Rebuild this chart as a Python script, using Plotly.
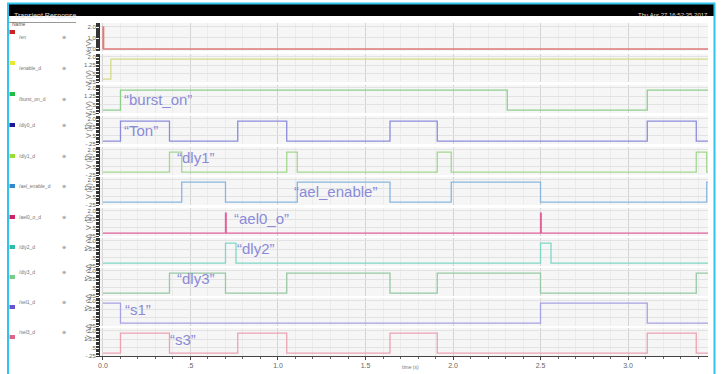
import plotly.graph_objects as go
from plotly.subplots import make_subplots

# ---------------- data ----------------
signal_names = ["/en", "/enable_d", "/burst_on_d", "/dly0_d", "/dly1_d", "/ael_enable_d",
                "/ael0_o_d", "/dly2_d", "/dly3_d", "/sel1_d", "/sel3_d"]
line_colors = ["#e07a7a", "#d4da86", "#8ccf8c", "#8c8cdc", "#a2d88e", "#88b6e0",
               "#e0609a", "#80d6c4", "#98c8a4", "#a6a2e4", "#eca2b2"]
key_colors = ["#cc2222", "#e8e830", "#22bb44", "#1a1a99", "#99dd33", "#3388cc",
              "#cc2266", "#33bbaa", "#77cc88", "#6655cc", "#dd6688"]

tran_t = [0.0, 0.0, 0.004, 3.457]
tran_v = [0.0, 2.0, 0.0, 0.0]
enable_t = [0.0, 0.045, 3.457]
enable_v = [0.0, 1.8, 1.8]
burst_t = [0.0, 0.10, 2.31, 3.11, 3.457]
burst_v = [0.0, 1.8, 0.0, 1.8, 1.8]
ton_t = [0.0, 0.10, 0.38, 0.77, 1.05, 1.64, 1.91, 3.11, 3.39, 3.457]
ton_v = [0.0, 1.8, 0.0, 1.8, 0.0, 1.8, 0.0, 1.8, 0.0, 0.0]
dly1_t = [0.0, 0.38, 0.45, 1.05, 1.11, 1.91, 1.99, 3.39, 3.45, 3.457]
dly1_v = [0.0, 1.8, 0.0, 1.8, 0.0, 1.8, 0.0, 1.8, 0.0, 0.0]
aelen_t = [0.0, 0.45, 0.70, 1.11, 1.64, 1.99, 2.50, 3.45, 3.457]
aelen_v = [0.0, 1.8, 0.0, 1.8, 0.0, 1.8, 0.0, 1.8, 1.8]
ael0_t = [0.0, 0.70, 0.704, 2.50, 2.504, 3.457]
ael0_v = [0.0, 1.8, 0.0, 1.8, 0.0, 0.0]
dly2_t = [0.0, 0.70, 0.76, 2.50, 2.56, 3.457]
dly2_v = [0.0, 1.8, 0.0, 1.8, 0.0, 0.0]
dly3_t = [0.0, 0.38, 0.70, 1.05, 1.64, 1.91, 2.50, 3.39, 3.457]
dly3_v = [0.0, 1.8, 0.0, 1.8, 0.0, 1.8, 0.0, 1.8, 1.8]
s1_t = [0.0, 0.10, 2.50, 3.11, 3.457]
s1_v = [1.8, 0.0, 1.8, 0.0, 0.0]
s3_t = [0.0, 0.10, 0.38, 0.77, 1.05, 1.64, 1.91, 3.11, 3.39, 3.457]
s3_v = [0.0, 1.8, 0.0, 1.8, 0.0, 1.8, 0.0, 1.8, 0.0, 0.0]

series_t = [tran_t, enable_t, burst_t, ton_t, dly1_t, aelen_t, ael0_t, dly2_t, dly3_t, s1_t, s3_t]
series_v = [tran_v, enable_v, burst_v, ton_v, dly1_v, aelen_v, ael0_v, dly2_v, dly3_v, s1_v, s3_v]

labels = ["\u201cburst_on\u201d", "\u201cTon\u201d", "\u201cdly1\u201d", "\u201cael_enable\u201d",
          "\u201cael0_o\u201d", "\u201cdly2\u201d", "\u201cdly3\u201d", "\u201cs1\u201d", "\u201cs3\u201d"]
label_rows = [3, 4, 5, 6, 7, 8, 9, 10, 11]
label_x = [0.11, 0.11, 0.41, 1.08, 0.735, 0.755, 0.41, 0.115, 0.37]
label_y = [1.0, 1.0, 1.3, 0.95, 1.3, 1.3, 1.3, 1.2, 1.2]

x_tickvals = [0.0, 0.5, 1.0, 1.5, 2.0, 2.5, 3.0]
x_ticktext = ["0.0", ".5", "1.0", "1.5", "2.0", "2.5", "3.0"]
y_tickvals = [-0.25, 0.5, 1.25, 2.0]
y_ticktext = ["-.25", ".5", "1.25", "2.0"]
y1_tickvals = [0.0, 1.0, 2.0]
y1_ticktext = ["0.0", "1.0", "2.0"]

# ---------------- layout geometry (pixels) ----------------
W, H = 721, 374
row_tops = [23, 54, 85, 116, 147, 177, 208, 238, 268, 298, 328]
row_h = 28
x_left_px, x_right_px = 100, 708

def px(x):
    return x / W

def py(y):
    return 1 - y / H

n = len(series_t)
fig = make_subplots(rows=n, cols=1, shared_xaxes=True, vertical_spacing=0.01)

for i in range(n):
    fig.add_trace(go.Scatter(x=series_t[i], y=series_v[i], mode="lines",
                             line=dict(shape="hv", width=1.3, color=line_colors[i]),
                             showlegend=False, hoverinfo="skip"), row=i + 1, col=1)

font_small = dict(family="Liberation Sans, Arial", size=6, color="#666666")

for i in range(n):
    k = "" if i == 0 else str(i + 1)
    top = row_tops[i]
    bot = top + row_h
    ya = dict(domain=[py(bot), py(top)], showline=True, linecolor="#333333", linewidth=1,
              ticks="outside", ticklen=2, tickcolor="#333333", tickfont=font_small,
              showgrid=True, gridcolor="#e2e2e2", gridwidth=1, zeroline=False,
              fixedrange=True, automargin=False)
    if i == 0:
        ya.update(range=[-0.18, 2.36], tickvals=y1_tickvals, ticktext=y1_ticktext,
                  minor=dict(ticks="outside", ticklen=3, tickcolor="#333333",
                             dtick=0.1, tick0=0, showgrid=False))
    else:
        ya.update(range=[-0.25, 2.25], tickvals=y_tickvals, ticktext=y_ticktext,
                  minor=dict(ticks="outside", ticklen=3, tickcolor="#333333",
                             dtick=0.125, tick0=0, showgrid=False))
    fig.layout["yaxis" + k].update(ya)
    xa = dict(domain=[px(x_left_px), px(x_right_px)], range=[-0.017, 3.457],
              showgrid=True, gridcolor="#d4d4d4", gridwidth=1,
              tickvals=x_tickvals, zeroline=False, automargin=False,
              minor=dict(dtick=0.1, tick0=0, showgrid=True, gridcolor="#ebebeb"),
              fixedrange=True)
    if i == n - 1:
        xa.update(ticktext=x_ticktext, showticklabels=True, ticks="outside", ticklen=3,
                  tickcolor="#444444", showline=True, linecolor="#444444",
                  tickfont=dict(family="Liberation Sans, Arial", size=7, color="#666666"))
        xa["minor"].update(ticks="outside", ticklen=2, tickcolor="#666666")
    else:
        xa.update(showticklabels=False, ticks="")
    fig.layout["xaxis" + k].update(xa)

annotations = []
shapes = []

# V (V) axis titles and legend panel entries
for i in range(n):
    top = row_tops[i]
    mid = top + row_h / 2
    annotations.append(dict(xref="paper", yref="paper", x=px(83), y=py(mid), text="V (V)",
                            textangle=-90, showarrow=False,
                            font=dict(family="Liberation Sans, Arial", size=7, color="#777777")))
    ky = top + 9
    shapes.append(dict(type="rect", xref="paper", yref="paper", x0=px(9.5), x1=px(15),
                       y0=py(ky + 2), y1=py(ky - 2), fillcolor=key_colors[i], line=dict(width=0)))
    annotations.append(dict(xref="paper", yref="paper", x=px(17), y=py(ky), text=signal_names[i],
                            xanchor="left", showarrow=False,
                            font=dict(family="Liberation Sans, Arial", size=5, color="#777777")))
    annotations.append(dict(xref="paper", yref="paper", x=px(60), y=py(ky), text="\u2295",
                            showarrow=False,
                            font=dict(family="DejaVu Sans", size=5, color="#888888")))

# waveform labels
for lbl, r, lx, ly in zip(labels, label_rows, label_x, label_y):
    k = "" if r == 1 else str(r)
    annotations.append(dict(xref="x" + k, yref="y" + k, x=lx, y=ly, text=lbl,
                            xanchor="left", yanchor="middle", showarrow=False,
                            font=dict(family="Liberation Sans, Arial", size=15, color="#8a8ad8")))

# title bar
shapes.append(dict(type="rect", xref="paper", yref="paper", x0=px(8), x1=px(714),
                   y0=py(16), y1=py(4), fillcolor="#000000", line=dict(width=0), layer="above"))
annotations.append(dict(xref="paper", yref="paper", x=px(12), y=py(10), text="Transient Response",
                        xanchor="left", showarrow=False,
                        font=dict(family="Liberation Sans, Arial", size=7, color="#dddddd")))
annotations.append(dict(xref="paper", yref="paper", x=px(710), y=py(10),
                        text="Thu Apr 27 16:52:35 2017", xanchor="right", showarrow=False,
                        font=dict(family="Liberation Sans, Arial", size=6, color="#dddddd")))
# legend header
annotations.append(dict(xref="paper", yref="paper", x=px(10), y=py(19.5), text="Name",
                        xanchor="left", showarrow=False,
                        font=dict(family="Liberation Sans, Arial", size=5, color="#555555")))
shapes.append(dict(type="line", xref="paper", yref="paper", x0=px(9), x1=px(76),
                   y0=py(22.5), y1=py(22.5), line=dict(color="#999999", width=1)))
# x axis title
annotations.append(dict(xref="paper", yref="paper", x=px(410), y=py(372), text="time (s)",
                        showarrow=False,
                        font=dict(family="Liberation Sans, Arial", size=5, color="#777777")))
# cyan frame
shapes.append(dict(type="rect", xref="paper", yref="paper", x0=px(8), x1=px(714.5),
                   y0=py(380), y1=py(3.5), line=dict(color="#2ec4ee", width=2),
                   fillcolor="rgba(0,0,0,0)", layer="above"))

fig.update_layout(width=W, height=H, margin=dict(l=0, r=0, t=0, b=0),
                  paper_bgcolor="#ffffff", plot_bgcolor="#f6f6f6",
                  annotations=annotations, shapes=shapes, showlegend=False)

fig.write_html("out.html", config={"displayModeBar": False},
               post_script="document.body.style.margin='0';document.body.style.overflow='hidden';")
